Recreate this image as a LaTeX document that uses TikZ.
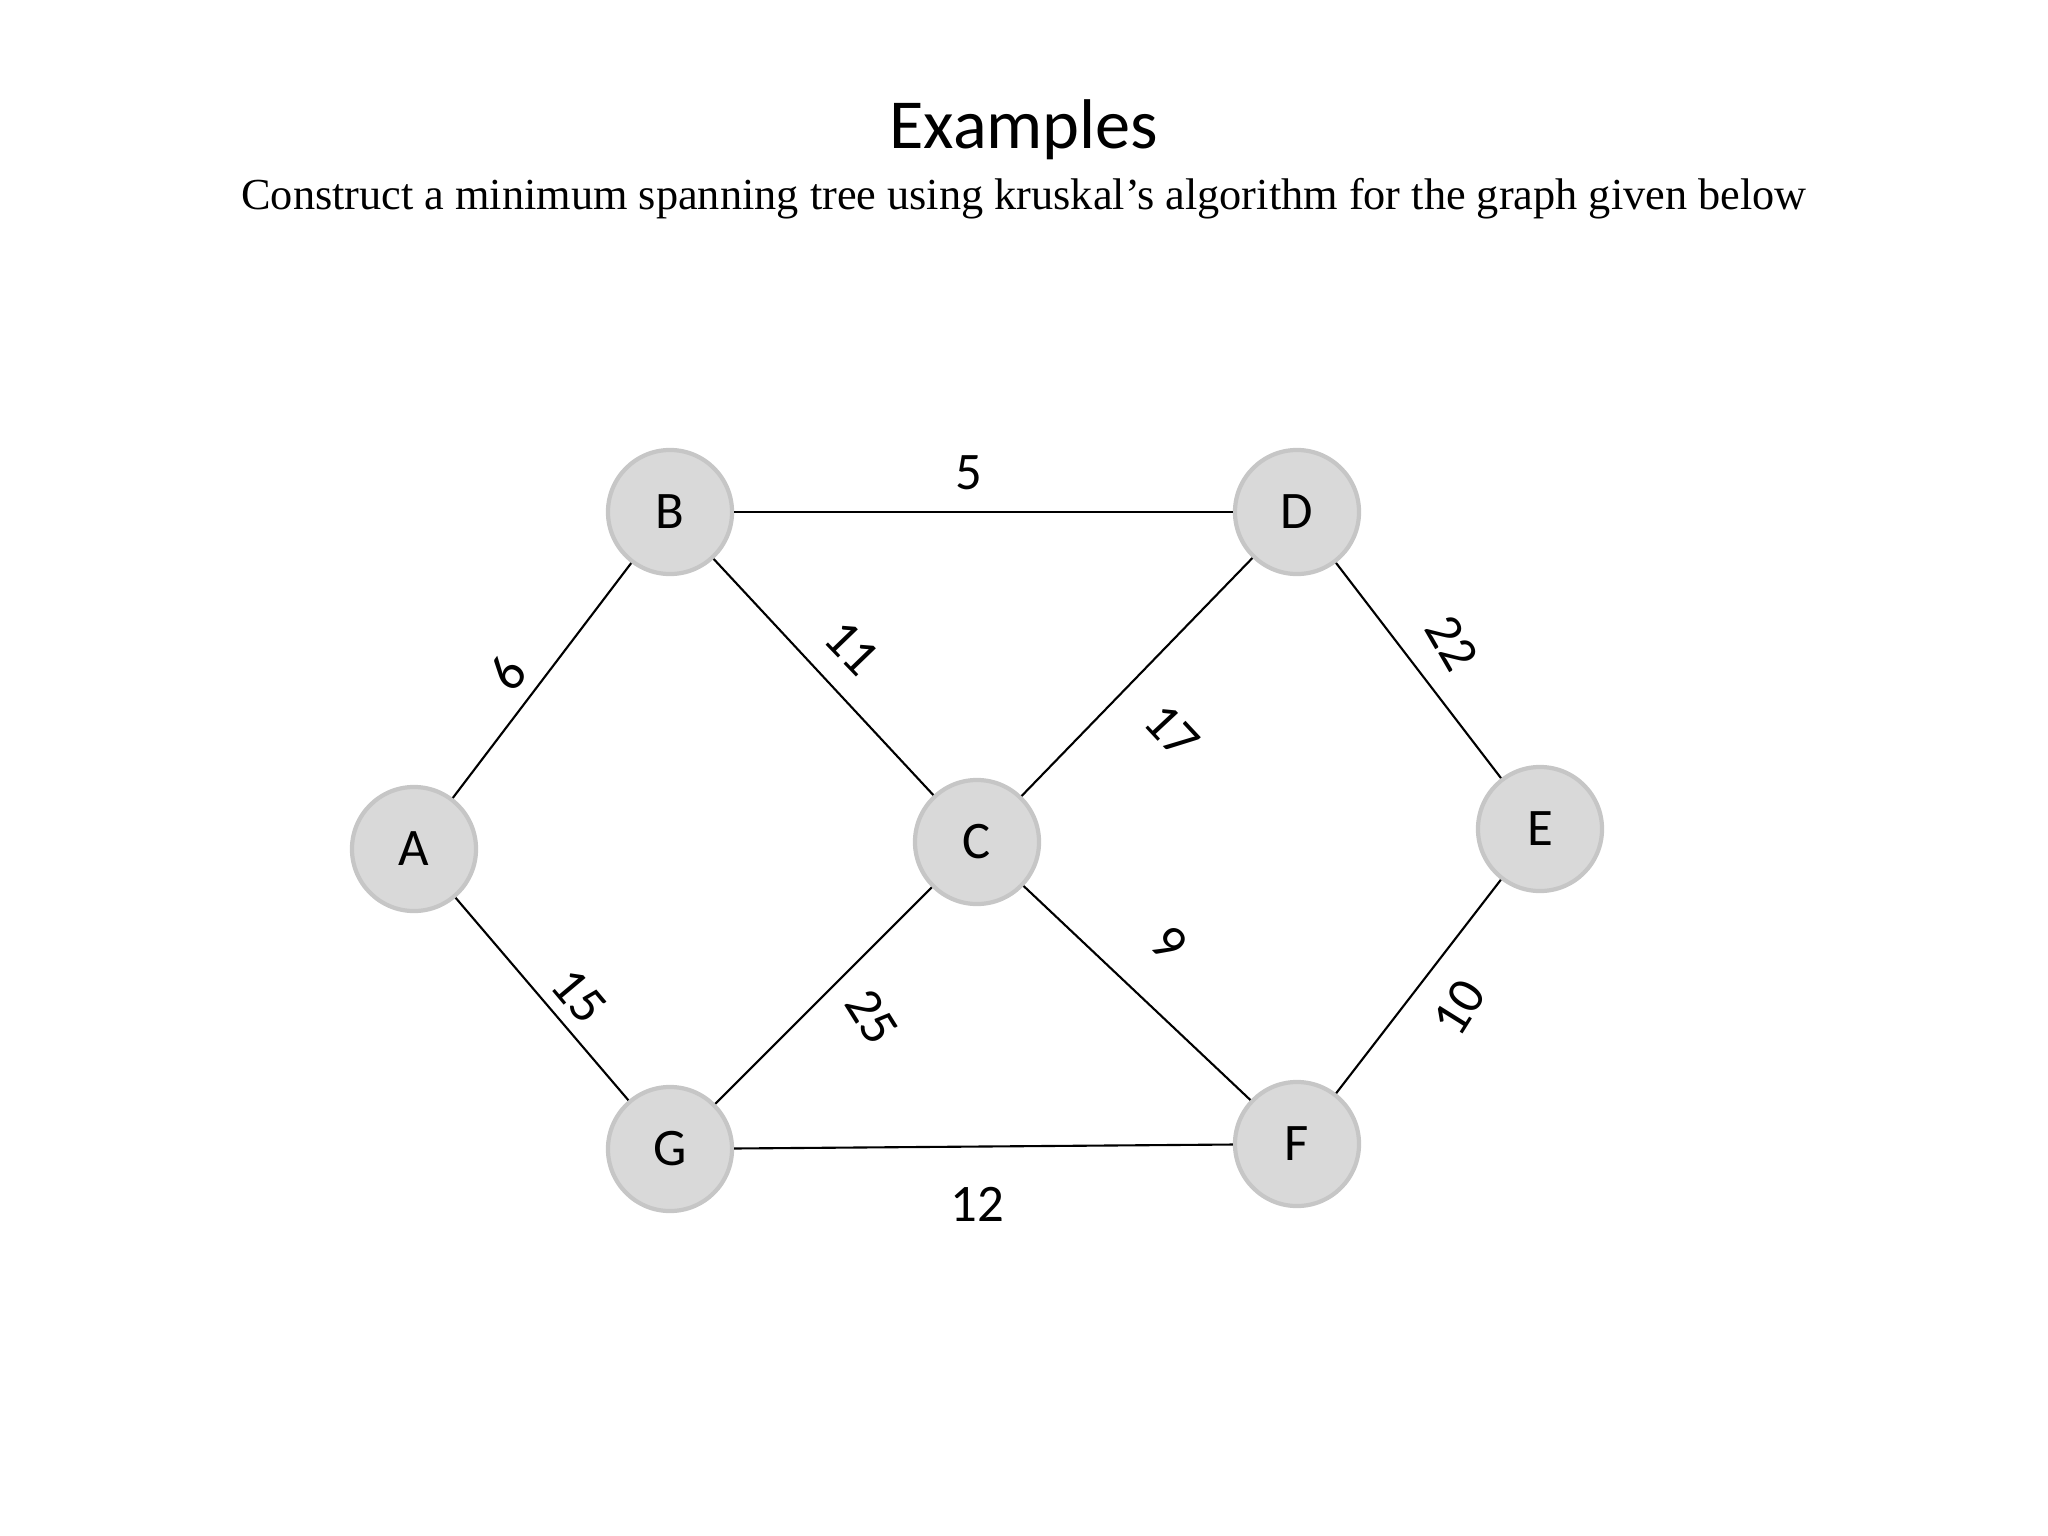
\documentclass[tikz,border=0pt]{standalone}
\usepackage{fontspec}
\setmainfont{Liberation Serif}
\newfontfamily\calibri{Carlito}
\usetikzlibrary{positioning}

\begin{document}
\begin{tikzpicture}[
  x=0.01cm, y=-0.01cm,
  vertex/.style={
    circle,
    draw=gray!45,
    line width=1.2pt,
    fill=gray!30,
    minimum size=1.24cm,
    inner sep=0pt,
    font=\calibri\fontsize{15}{18}\selectfont
  },
  weight/.style={
    inner sep=1pt,
    font=\calibri\fontsize{15}{18}\selectfont
  },
  edge/.style={draw, line width=0.6pt}
]
\useasboundingbox (0,0) rectangle (2048,1536);
% heading
\node[anchor=base, font=\calibri\fontsize{20}{24}\selectfont] (title) at (1024,148) {Examples};
\node[anchor=base, font=\fontsize{12.6}{15}\selectfont] (task) at (1024,209) {Construct a minimum spanning tree using kruskal’s algorithm for the graph given below};
% vertices
\node[vertex] (A) at (414,849) {A};
\node[vertex] (B) at (670,512) {B};
\node[vertex] (D) at (1297,512) {D};
\node[vertex] (C) at (977,842) {C};
\node[vertex] (E) at (1540,829) {E};
\node[vertex] (G) at (670,1149) {G};
\node[vertex] (F) at (1297,1144) {F};
% edges
\draw[edge] (A) -- (B);
\draw[edge] (A) -- (G);
\draw[edge] (B) -- (D);
\draw[edge] (B) -- (C);
\draw[edge] (D) -- (C);
\draw[edge] (D) -- (E);
\draw[edge] (C) -- (G);
\draw[edge] (C) -- (F);
\draw[edge] (E) -- (F);
\draw[edge] (G) -- (F);
% weights
\node[weight] (wBD) at (969,473) {5};
\node[weight, rotate=53] (wAB) at (507,673) {6};
\node[weight, rotate=-46] (wBC) at (852,648) {11};
\node[weight, rotate=-47] (wCD) at (1172,731) {17};
\node[weight, rotate=-60] (wDE) at (1452,643) {22};
\node[weight, rotate=-46] (wCF) at (1169,943) {9};
\node[weight, rotate=-50] (wAG) at (579,996) {15};
\node[weight, rotate=-58] (wCG) at (872,1017) {25};
\node[weight, rotate=58] (wEF) at (1459,1008) {10};
\node[weight] (wGF) at (977,1204) {12};
\end{tikzpicture}
\end{document}
